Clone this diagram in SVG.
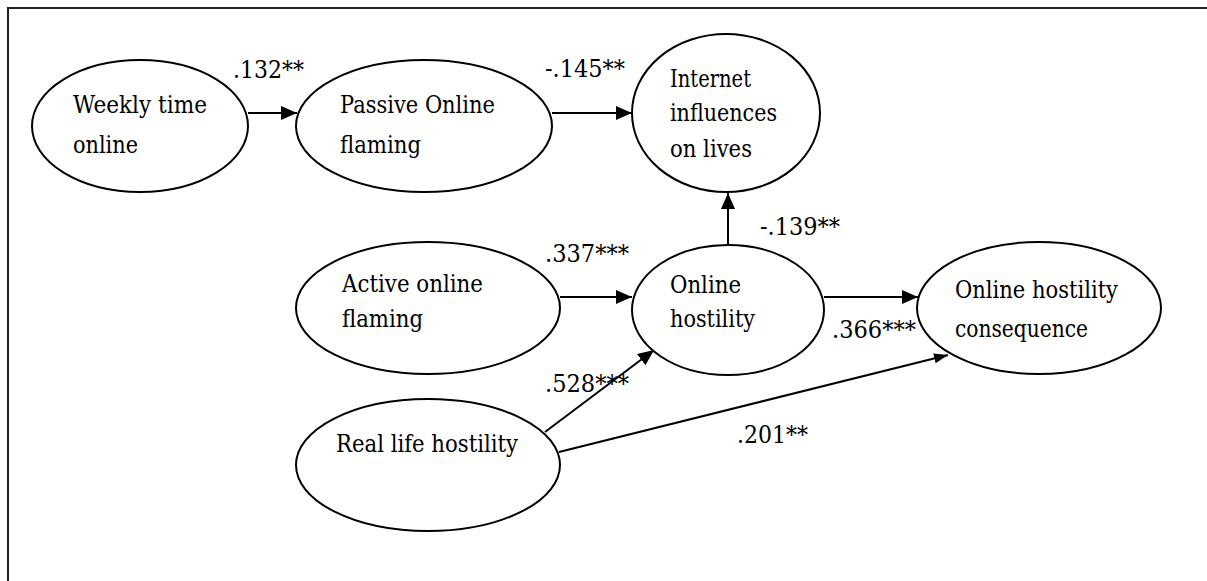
<svg xmlns="http://www.w3.org/2000/svg" width="1207" height="581" viewBox="0 0 1207 581">
  <style>
    .node ellipse { fill: #ffffff; stroke: #000000; stroke-width: 2; }
    .t { font-family: "DejaVu Serif", "Liberation Serif", serif; font-size: 24px; fill: #000000; }
    .conn line { stroke: #000000; stroke-width: 2; }
    .frame { stroke: #222222; stroke-width: 2; fill: none; }
  </style>
  <defs>
    <marker id="arrow" markerUnits="userSpaceOnUse" markerWidth="16" markerHeight="14" refX="16" refY="7" orient="auto">
      <path d="M0,0 L16,7 L0,14 Z" fill="#000000"/>
    </marker>
    <marker id="arrowSmall" markerUnits="userSpaceOnUse" markerWidth="14" markerHeight="10" refX="14" refY="5" orient="auto">
      <path d="M0,0 L14,5 L0,10 Z" fill="#000000"/>
    </marker>
  </defs>
  <rect width="1207" height="581" fill="#ffffff"/>
  <path class="frame" d="M8,581 L8,8 L1207,8"/>

  <g id="connectors" class="conn">
    <line x1="248" y1="113" x2="297" y2="113" marker-end="url(#arrow)"/>
    <line x1="552" y1="113" x2="632" y2="113" marker-end="url(#arrow)"/>
    <line x1="728" y1="245" x2="728" y2="193" marker-end="url(#arrow)"/>
    <line x1="560" y1="297" x2="632" y2="297" marker-end="url(#arrow)"/>
    <line x1="824" y1="297" x2="918" y2="297" marker-end="url(#arrow)"/>
    <line x1="545" y1="432" x2="654" y2="350" marker-end="url(#arrow)"/>
    <line x1="559" y1="452" x2="948" y2="355" marker-end="url(#arrowSmall)"/>
  </g>

  <g id="labels" class="t">
    <text x="233" y="78" textLength="71" lengthAdjust="spacingAndGlyphs">.132**</text>
    <text x="545" y="77" textLength="80" lengthAdjust="spacingAndGlyphs">-.145**</text>
    <text x="760" y="235" textLength="80" lengthAdjust="spacingAndGlyphs">-.139**</text>
    <text x="545" y="262" textLength="84" lengthAdjust="spacingAndGlyphs">.337***</text>
    <text x="832" y="338" textLength="84" lengthAdjust="spacingAndGlyphs">.366***</text>
    <text x="545" y="392" textLength="84" lengthAdjust="spacingAndGlyphs">.528***</text>
    <text x="737" y="443" textLength="71" lengthAdjust="spacingAndGlyphs">.201**</text>
  </g>

  <g id="weekly-time-online" class="node">
    <ellipse cx="140" cy="126" rx="108" ry="66"/>
    <text class="t" x="73" y="113" textLength="134" lengthAdjust="spacingAndGlyphs">Weekly time</text>
    <text class="t" x="73" y="153" textLength="65" lengthAdjust="spacingAndGlyphs">online</text>
  </g>

  <g id="passive-online-flaming" class="node">
    <ellipse cx="424" cy="126" rx="128" ry="66"/>
    <text class="t" x="340" y="113" textLength="155" lengthAdjust="spacingAndGlyphs">Passive Online</text>
    <text class="t" x="340" y="153" textLength="81" lengthAdjust="spacingAndGlyphs">flaming</text>
  </g>

  <g id="internet-influences" class="node">
    <ellipse cx="726" cy="113" rx="94" ry="79"/>
    <text class="t" x="670" y="87" textLength="81" lengthAdjust="spacingAndGlyphs">Internet</text>
    <text class="t" x="670" y="121" textLength="107" lengthAdjust="spacingAndGlyphs">influences</text>
    <text class="t" x="670" y="157" textLength="82" lengthAdjust="spacingAndGlyphs">on lives</text>
  </g>

  <g id="active-online-flaming" class="node">
    <ellipse cx="428" cy="308" rx="132" ry="66"/>
    <text class="t" x="342" y="292" textLength="141" lengthAdjust="spacingAndGlyphs">Active online</text>
    <text class="t" x="342" y="327" textLength="81" lengthAdjust="spacingAndGlyphs">flaming</text>
  </g>

  <g id="online-hostility" class="node">
    <ellipse cx="728" cy="310" rx="96" ry="65"/>
    <text class="t" x="670" y="293" textLength="71" lengthAdjust="spacingAndGlyphs">Online</text>
    <text class="t" x="670" y="327" textLength="85" lengthAdjust="spacingAndGlyphs">hostility</text>
  </g>

  <g id="online-hostility-consequence" class="node">
    <ellipse cx="1039" cy="308" rx="122" ry="66"/>
    <text class="t" x="955" y="298" textLength="163" lengthAdjust="spacingAndGlyphs">Online hostility</text>
    <text class="t" x="955" y="337" textLength="133" lengthAdjust="spacingAndGlyphs">consequence</text>
  </g>

  <g id="real-life-hostility" class="node">
    <ellipse cx="428" cy="465" rx="132" ry="66"/>
    <text class="t" x="336" y="452" textLength="182" lengthAdjust="spacingAndGlyphs">Real life hostility</text>
  </g>
</svg>
